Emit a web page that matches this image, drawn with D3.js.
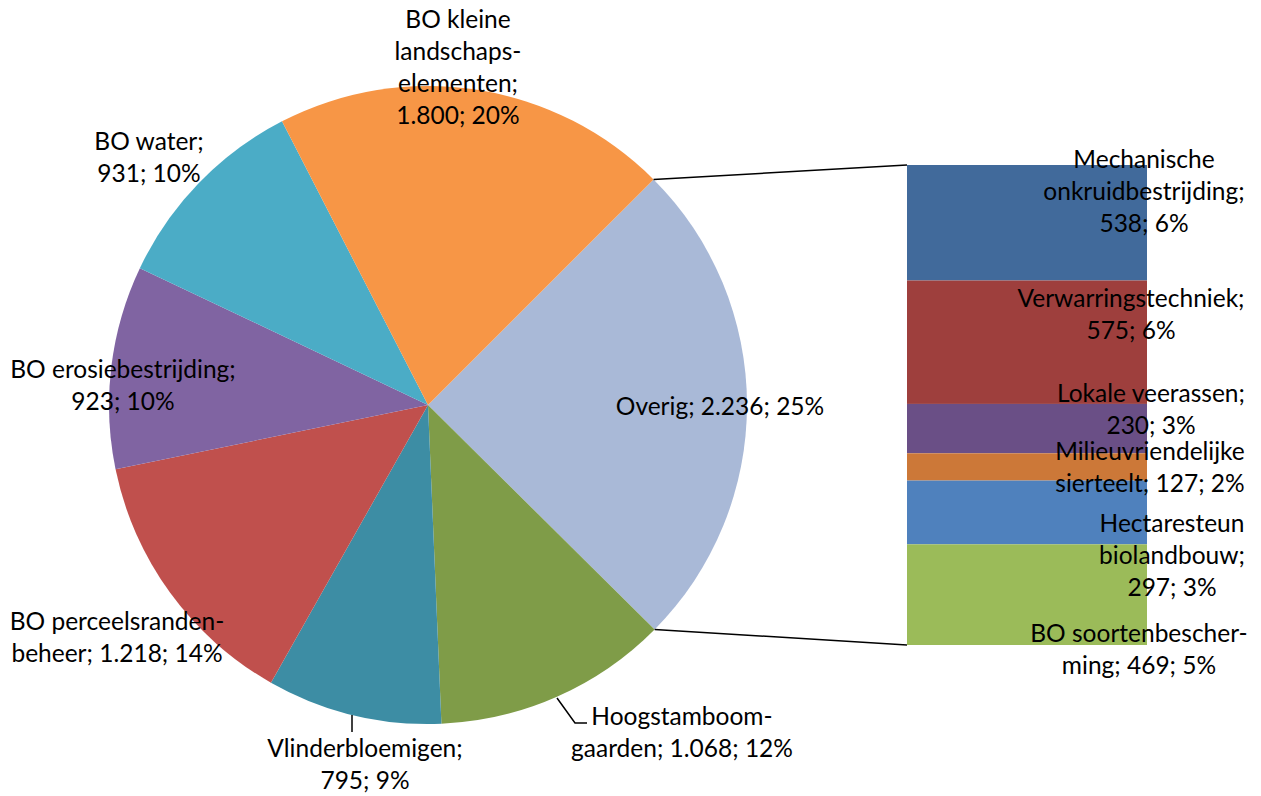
<!DOCTYPE html>
<html>
<head>
<meta charset="utf-8">
<script src="https://cdn.jsdelivr.net/npm/d3@7"></script>
<style>
  body { margin: 0; background: #fff; }
  text { font-family: Lato, "Open Sans", sans-serif; font-size: 24.5px; fill: #000; }
</style>
</head>
<body>
<svg id="chart" width="1261" height="796"></svg>
<script>
// pie slices, clockwise starting at Overig
const pieNames = ["Overig", "Hoogstamboomgaarden", "Vlinderbloemigen", "BO perceelsrandenbeheer",
                  "BO erosiebestrijding", "BO water", "BO kleine landschapselementen"]
const pieValues = [2236, 1068, 795, 1218, 923, 931, 1800]
const pieLabels = [
  ["Overig; 2.236; 25%"],
  ["Hoogstamboom-", "gaarden; 1.068; 12%"],
  ["Vlinderbloemigen;", "795; 9%"],
  ["BO perceelsranden-", "beheer; 1.218; 14%"],
  ["BO erosiebestrijding;", "923; 10%"],
  ["BO water;", "931; 10%"],
  ["BO kleine", "landschaps-", "elementen;", "1.800; 20%"]
]

// breakdown of Overig, top to bottom
const barNames = ["Mechanische onkruidbestrijding", "Verwarringstechniek", "Lokale veerassen",
                  "Milieuvriendelijke sierteelt", "Hectaresteun biolandbouw", "BO soortenbescherming"]
const barValues = [538, 575, 230, 127, 297, 469]
const barLabels = [
  ["Mechanische", "onkruidbestrijding;", "538; 6%"],
  ["Verwarringstechniek;", "575; 6%"],
  ["Lokale veerassen;", "230; 3%"],
  ["Milieuvriendelijke", "sierteelt; 127; 2%"],
  ["Hectaresteun", "biolandbouw;", "297; 3%"],
  ["BO soortenbescher-", "ming; 469; 5%"]
]

const pieColors = ["#a9b9d7", "#7f9c48", "#3d8da4", "#c0504d", "#8064a2", "#4bacc6", "#f79646"]
const barColors = ["#416a9b", "#9e3f3d", "#6a4f86", "#cc7838", "#4f81bd", "#9bbb59"]

// label anchors (first-line baseline, centre x) as placed in the original
const pieLabelPos = [[720, 415], [682, 725], [365, 757], [117, 630], [123, 378], [149, 150], [458, 28]]
const barLabelPos = [[1144, 168], [1131, 307], [1151, 402], [1150, 460], [1172, 532], [1139, 642]]
const lineH = 32

const svg = d3.select("#chart")
const cx = 428, cy = 405, r = 319

const pie = d3.pie().sort(null).value(d => d).startAngle(Math.PI / 4).endAngle(Math.PI / 4 + 2 * Math.PI)
const arcs = pie(pieValues)
const arc = d3.arc().innerRadius(0).outerRadius(r)

const g = svg.append("g").attr("transform", `translate(${cx},${cy})`)
g.selectAll("path")
 .data(arcs)
 .join("path")
 .attr("d", arc)
 .attr("fill", (d, i) => pieColors[i])

// bar of the Overig slice
const barX = 907, barW = 240
const y = d3.scaleLinear()
            .domain([0, d3.sum(barValues)])
            .range([165, 645])
const cum = d3.cumsum([0].concat(barValues))

svg.append("g")
   .selectAll("rect")
   .data(barValues)
   .join("rect")
   .attr("x", barX)
   .attr("y", (d, i) => y(cum[i]))
   .attr("width", barW)
   .attr("height", d => y(d) - y(0))
   .attr("fill", (d, i) => barColors[i])

// connector lines from the Overig slice edges to the bar
const ov = arcs[0]
const edge = a => [cx + r * Math.sin(a), cy - r * Math.cos(a)]
const p0 = edge(ov.startAngle), p1 = edge(ov.endAngle)
svg.append("line").attr("x1", p0[0]).attr("y1", p0[1]).attr("x2", barX).attr("y2", y.range()[0])
   .attr("stroke", "#000").attr("stroke-width", 1.5)
svg.append("line").attr("x1", p1[0]).attr("y1", p1[1]).attr("x2", barX).attr("y2", y.range()[1])
   .attr("stroke", "#000").attr("stroke-width", 1.5)

// leader lines
svg.append("path").attr("d", "M557,698L575,723L587,723").attr("fill", "none").attr("stroke", "#000").attr("stroke-width", 1.5)
svg.append("path").attr("d", "M352,715L352,732").attr("fill", "none").attr("stroke", "#000").attr("stroke-width", 1.5)

function drawLabels(labels, pos) {
  labels.forEach((lines, i) => {
    const t = svg.append("text")
                 .attr("text-anchor", "middle")
                 .attr("x", pos[i][0])
                 .attr("y", pos[i][1])
    lines.forEach((s, j) => {
      t.append("tspan").attr("x", pos[i][0]).attr("y", pos[i][1] + j * lineH).text(s)
    })
  })
}
drawLabels(pieLabels, pieLabelPos)
drawLabels(barLabels, barLabelPos)
</script>
</body>
</html>
